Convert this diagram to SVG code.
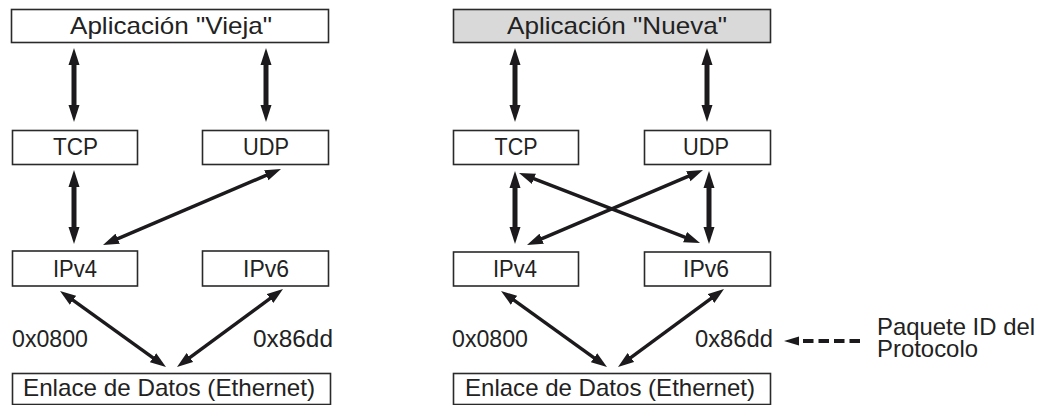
<svg xmlns="http://www.w3.org/2000/svg" width="1040" height="405" viewBox="0 0 1040 405">
  <style>
    .box { fill: #ffffff; stroke: #2a2a2a; stroke-width: 1.6; }
    .box.new { fill: #d9d9d9; }
    .lbl { font-family: "Liberation Sans", Arial, sans-serif; font-size: 23px; fill: #222222; }
    .big { font-size: 24px; }
    .mid { text-anchor: middle; }
    .thick { stroke: #1c1a1c; stroke-width: 5; fill: none; marker-start: url(#headV); marker-end: url(#headV); }
    .thin { stroke: #1c1a1c; stroke-width: 3.4; fill: none; marker-start: url(#headD); marker-end: url(#headD); }
    .dash { stroke: #1c1a1c; stroke-width: 4; stroke-dasharray: 10.5 5; fill: none; }
  </style>
  <defs>
    <marker id="headV" markerUnits="userSpaceOnUse" viewBox="0 -6 17 12" refX="1" refY="0" markerWidth="17" markerHeight="12" orient="auto-start-reverse">
      <path d="M0,-5.5 L17,0 L0,5.5 z" fill="#1c1a1c"/>
    </marker>
    <marker id="headD" markerUnits="userSpaceOnUse" viewBox="0 -6 16 12" refX="1" refY="0" markerWidth="16" markerHeight="12" orient="auto-start-reverse">
      <path d="M0,-5.5 L16,0 L0,5.5 z" fill="#1c1a1c"/>
    </marker>
  </defs>

  <!-- Old stack -->
  <g id="app-vieja">
    <rect class="box" x="11.5" y="9.5" width="317" height="33"/>
    <text class="lbl big mid" x="171" y="34" textLength="202" lengthAdjust="spacingAndGlyphs">Aplicación "Vieja"</text>
  </g>
  <g id="tcp-vieja">
    <rect class="box" x="12.5" y="130.5" width="125" height="34"/>
    <text class="lbl mid" x="75.5" y="155" textLength="45" lengthAdjust="spacingAndGlyphs">TCP</text>
  </g>
  <g id="udp-vieja">
    <rect class="box" x="202.5" y="130.5" width="126" height="34"/>
    <text class="lbl mid" x="266" y="155" textLength="46" lengthAdjust="spacingAndGlyphs">UDP</text>
  </g>
  <g id="ipv4-vieja">
    <rect class="box" x="12.5" y="251" width="125" height="35"/>
    <text class="lbl mid" x="75" y="277" textLength="44" lengthAdjust="spacingAndGlyphs">IPv4</text>
  </g>
  <g id="ipv6-vieja">
    <rect class="box" x="202.5" y="251" width="126" height="35"/>
    <text class="lbl mid" x="266" y="277" textLength="46" lengthAdjust="spacingAndGlyphs">IPv6</text>
  </g>
  <g id="eth-vieja">
    <rect class="box" x="12.5" y="373.5" width="318" height="31"/>
    <text class="lbl big mid" x="169" y="396" textLength="292" lengthAdjust="spacingAndGlyphs">Enlace de Datos (Ethernet)</text>
  </g>
  <g id="ethertypes-vieja">
    <text class="lbl" x="12" y="347" textLength="76" lengthAdjust="spacingAndGlyphs">0x0800</text>
    <text class="lbl" x="253" y="347" textLength="80" lengthAdjust="spacingAndGlyphs">0x86dd</text>
  </g>

  <!-- New stack -->
  <g id="app-nueva">
    <rect class="box new" x="453.5" y="9.5" width="317" height="33"/>
    <text class="lbl big mid" x="617" y="34" textLength="220" lengthAdjust="spacingAndGlyphs">Aplicación "Nueva"</text>
  </g>
  <g id="tcp-nueva">
    <rect class="box" x="453.5" y="130.5" width="125" height="34"/>
    <text class="lbl mid" x="516" y="155" textLength="43" lengthAdjust="spacingAndGlyphs">TCP</text>
  </g>
  <g id="udp-nueva">
    <rect class="box" x="644.5" y="130.5" width="126" height="34"/>
    <text class="lbl mid" x="706" y="155" textLength="46" lengthAdjust="spacingAndGlyphs">UDP</text>
  </g>
  <g id="ipv4-nueva">
    <rect class="box" x="453.5" y="252" width="125" height="34"/>
    <text class="lbl mid" x="515" y="277" textLength="44" lengthAdjust="spacingAndGlyphs">IPv4</text>
  </g>
  <g id="ipv6-nueva">
    <rect class="box" x="644.5" y="252" width="126" height="34"/>
    <text class="lbl mid" x="706" y="277" textLength="46" lengthAdjust="spacingAndGlyphs">IPv6</text>
  </g>
  <g id="eth-nueva">
    <rect class="box" x="453.5" y="373.5" width="317" height="31"/>
    <text class="lbl big mid" x="610" y="396" textLength="290" lengthAdjust="spacingAndGlyphs">Enlace de Datos (Ethernet)</text>
  </g>
  <g id="ethertypes-nueva">
    <text class="lbl" x="452" y="347" textLength="76" lengthAdjust="spacingAndGlyphs">0x0800</text>
    <text class="lbl" x="695" y="347" textLength="78" lengthAdjust="spacingAndGlyphs">0x86dd</text>
  </g>

  <!-- Legend -->
  <g id="leyenda">
    <path d="M784,341 L799,336.5 L799,345.5 z" fill="#1c1a1c"/>
    <line class="dash" x1="803" y1="341" x2="861" y2="341"/>
    <text class="lbl big" x="877" y="335" textLength="158" lengthAdjust="spacingAndGlyphs">Paquete ID del</text>
    <text class="lbl big" x="877" y="357" textLength="101" lengthAdjust="spacingAndGlyphs">Protocolo</text>
  </g>

  <!-- Connectors -->
  <g id="connectors">
    <!-- old stack -->
    <line class="thick" x1="74" y1="64" x2="74" y2="106"/>
    <line class="thick" x1="266" y1="64" x2="266" y2="106"/>
    <line class="thick" x1="74" y1="186" x2="74" y2="228"/>
    <line class="thin" x1="267.2" y1="174.9" x2="116.8" y2="239.1"/>
    <line class="thin" x1="72.2" y1="299.7" x2="153.8" y2="358.3"/>
    <line class="thin" x1="270.9" y1="297.9" x2="189.1" y2="358.1"/>
    <!-- new stack -->
    <line class="thick" x1="515" y1="64" x2="515" y2="106"/>
    <line class="thick" x1="707" y1="64" x2="707" y2="106"/>
    <line class="thick" x1="515" y1="187" x2="515" y2="228"/>
    <line class="thick" x1="709" y1="187" x2="709" y2="228"/>
    <line class="thin" x1="533.0" y1="178.4" x2="686.0" y2="237.6"/>
    <line class="thin" x1="689.2" y1="175.9" x2="540.8" y2="239.1"/>
    <line class="thin" x1="513.2" y1="299.7" x2="594.8" y2="358.3"/>
    <line class="thin" x1="711.9" y1="297.9" x2="630.1" y2="358.1"/>
  </g>
</svg>
